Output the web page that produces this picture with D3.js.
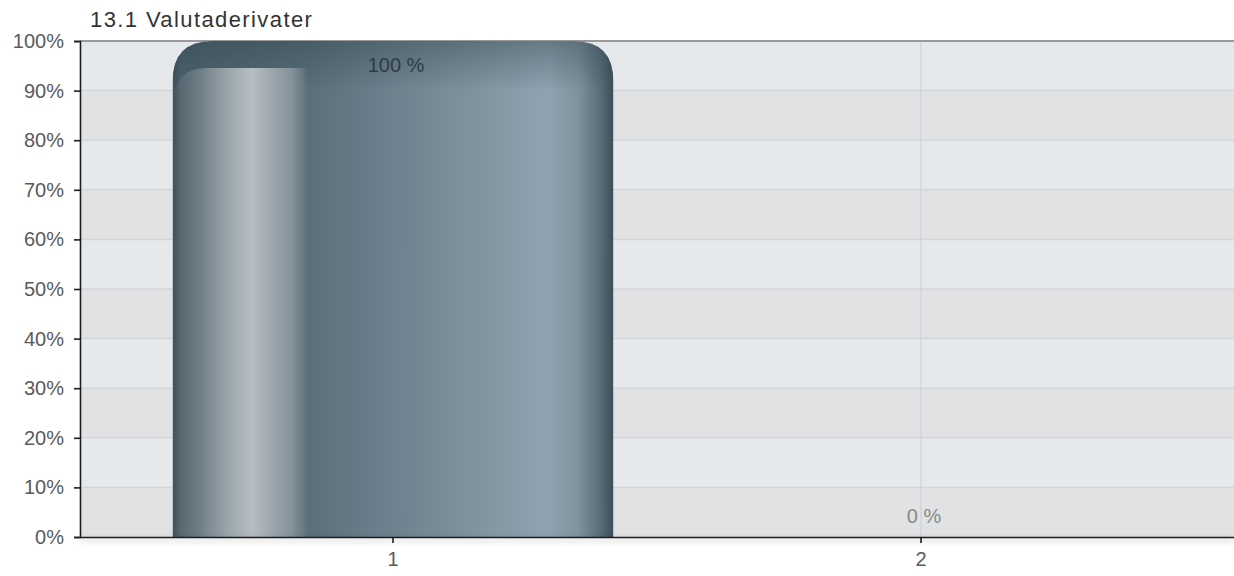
<!DOCTYPE html>
<html>
<head>
<meta charset="utf-8">
<script src="https://cdn.jsdelivr.net/npm/d3@7/dist/d3.min.js"></script>
<style>
  html, body { margin: 0; padding: 0; background: #ffffff; }
  svg { display: block; font-family: "Liberation Sans", Arial, sans-serif; }
</style>
</head>
<body>
<svg id="chart" width="1234" height="576"></svg>
<script>
// Chart data
const title = "13.1 Valutaderivater";
const categories = ["1", "2"];
const values = [100, 0];
const valueLabels = ["100 %", "0 %"];
const yTicks = [0, 10, 20, 30, 40, 50, 60, 70, 80, 90, 100];

const W = 1234, H = 576;
const plot = { left: 80, right: 1234, top: 41, bottom: 537 };

const svg = d3.select("#chart");
const defs = svg.append("defs");

const y = d3.scaleLinear().domain([0, 100]).range([plot.bottom, plot.top]);
const x = d3.scaleBand().domain(categories).range([129, 1185])
  .paddingInner(0.165).paddingOuter(0.0825);

// Gradients for the cylinder-like bar
function hGrad(id, stops) {
  const g = defs.append("linearGradient").attr("id", id)
    .attr("x1", "0%").attr("x2", "100%").attr("y1", "0%").attr("y2", "0%");
  stops.forEach(s => g.append("stop").attr("offset", s[0]).attr("stop-color", s[1])
    .attr("stop-opacity", s[2] == null ? 1 : s[2]));
}
hGrad("barBody", [
  ["0%", "#3c515c"], ["2%", "#4c616c"], ["30%", "#5a6e79"], ["45%", "#687d89"],
  ["65%", "#7c909c"], ["85%", "#8fa3b0"], ["92%", "#7f929e"], ["97%", "#5a6c78"], ["100%", "#3b4d59"]
]);
hGrad("barShine", [
  ["0%", "#4b5d66", 0], ["5%", "#56676f"], ["20%", "#707f87"], ["40%", "#9aa5ab"], ["58%", "#b5bec4"],
  ["74%", "#9ba6ac"], ["88%", "#84929a"], ["96%", "#74858e", 0.6], ["100%", "#6a7c86", 0]
]);
const vg = defs.append("linearGradient").attr("id", "barCap")
  .attr("x1", "0%").attr("x2", "0%").attr("y1", "0%").attr("y2", "100%");
vg.append("stop").attr("offset", "0%").attr("stop-color", "#2c3f4a").attr("stop-opacity", 0.4);
vg.append("stop").attr("offset", "100%").attr("stop-color", "#2c3f4a").attr("stop-opacity", 0);

const shadow = defs.append("filter").attr("id", "axisShadow")
  .attr("x", "-5%").attr("y", "-200%").attr("width", "110%").attr("height", "500%");
shadow.append("feGaussianBlur").attr("stdDeviation", 3);

// Plot background: alternating horizontal bands
const bands = yTicks.slice(0, -1).map((t, i) => ({ lo: t, hi: yTicks[i + 1] }));
svg.append("g").selectAll("rect").data(bands).join("rect")
  .attr("x", plot.left).attr("width", plot.right - plot.left)
  .attr("y", d => y(d.hi)).attr("height", d => y(d.lo) - y(d.hi))
  .attr("fill", (d, i) => (i % 2 === 0 ? "#e1e2e4" : "#e6e9ec"));

// Horizontal gridlines
svg.append("g").selectAll("line").data(yTicks.slice(1, -1)).join("line")
  .attr("x1", plot.left).attr("x2", plot.right)
  .attr("y1", d => y(d)).attr("y2", d => y(d))
  .attr("stroke", "#d3d5d8").attr("stroke-width", 1.5);

// Vertical gridlines at category centres
svg.append("g").selectAll("line").data(categories).join("line")
  .attr("x1", d => x(d) + x.bandwidth() / 2).attr("x2", d => x(d) + x.bandwidth() / 2)
  .attr("y1", plot.top).attr("y2", plot.bottom)
  .attr("stroke", "#d0d2d5").attr("stroke-width", 1.2);

// Top border of the plot
svg.append("line").attr("x1", plot.left).attr("x2", plot.right)
  .attr("y1", plot.top).attr("y2", plot.top)
  .attr("stroke", "#9a9a9a").attr("stroke-width", 2);

// Bar shapes
function roundedTop(x0, y0, w, h, r) {
  r = Math.min(r, w / 2, h);
  return `M${x0},${y0 + h} L${x0},${y0 + r} Q${x0},${y0} ${x0 + r},${y0} ` +
    `L${x0 + w - r},${y0} Q${x0 + w},${y0} ${x0 + w},${y0 + r} L${x0 + w},${y0 + h} Z`;
}
function roundedTopLeft(x0, y0, w, h, r) {
  r = Math.min(r, w, h);
  return `M${x0},${y0 + h} L${x0},${y0 + r} Q${x0},${y0} ${x0 + r},${y0} ` +
    `L${x0 + w},${y0} L${x0 + w},${y0 + h} Z`;
}
const barData = categories.map((c, i) => ({ c, v: values[i], label: valueLabels[i] }));
const barG = svg.append("g");
barData.forEach((d, i) => {
  const bx = x(d.c), bw = x.bandwidth();
  const top = y(d.v), h = y(0) - y(d.v);
  if (h <= 0) return;
  const path = roundedTop(bx, top, bw, h, 40);
  const clipId = "barClip" + i;
  defs.append("clipPath").attr("id", clipId).append("path").attr("d", path);
  const g = barG.append("g").attr("clip-path", `url(#${clipId})`);
  g.append("path").attr("d", path).attr("fill", "url(#barBody)");
  // darker cap along the top of the bar
  g.append("rect").attr("x", bx).attr("y", top).attr("width", bw).attr("height", 50)
    .attr("fill", "url(#barCap)");
  // inner highlight panel on the left side
  const sx = bx + 1, sw = bw * 0.305, sTop = top + 27;
  g.append("path").attr("d", roundedTopLeft(sx, sTop, sw, y(0) - sTop, 34))
    .attr("fill", "url(#barShine)");
});

// Axis shadow below the baseline
svg.append("rect").attr("x", plot.left).attr("y", plot.bottom + 1)
  .attr("width", plot.right - plot.left).attr("height", 4)
  .attr("fill", "#000").attr("opacity", 0.12).attr("filter", "url(#axisShadow)");

// Y axis
const yAxis = svg.append("g").attr("transform", `translate(${plot.left},0)`)
  .call(d3.axisLeft(y).tickValues(yTicks).tickSize(6).tickPadding(10).tickFormat(d => d + "%"));
yAxis.select(".domain").attr("stroke", "#1e1e1e").attr("stroke-width", 1.6);
yAxis.selectAll(".tick line").attr("stroke", "#1e1e1e").attr("stroke-width", 1.6);
yAxis.selectAll(".tick text").attr("fill", "#5a5a5a").attr("font-size", 20)
  .attr("font-family", "Liberation Sans, Arial, sans-serif");

// X axis
const xAxis = svg.append("g").attr("transform", `translate(0,${plot.bottom})`)
  .call(d3.axisBottom(x).tickSize(6).tickPadding(9).tickSizeOuter(0));
xAxis.select(".domain").attr("stroke", "#1e1e1e").attr("stroke-width", 1.6)
  .attr("d", `M${plot.left},0.5H${plot.right}`);
xAxis.selectAll(".tick line").attr("stroke", "#1e1e1e").attr("stroke-width", 1.6);
xAxis.selectAll(".tick text").attr("fill", "#5a5a5a").attr("font-size", 20)
  .attr("font-family", "Liberation Sans, Arial, sans-serif");

// Value labels: above the bar, kept inside the plot area
svg.append("g").selectAll("text").data(barData).join("text")
  .attr("x", d => x(d.c) + x.bandwidth() / 2 + 3)
  .attr("y", d => Math.max(y(d.v) - 14, plot.top + 31))
  .attr("text-anchor", "middle").attr("font-size", 20)
  .attr("fill", d => (d.v > 0 ? "#2f3b42" : "#8a8a8a"))
  .text(d => d.label);

// Title
svg.append("text").attr("x", 90).attr("y", 27)
  .attr("font-size", 22).attr("letter-spacing", 1.4).attr("fill", "#333").text(title);
</script>
</body>
</html>
